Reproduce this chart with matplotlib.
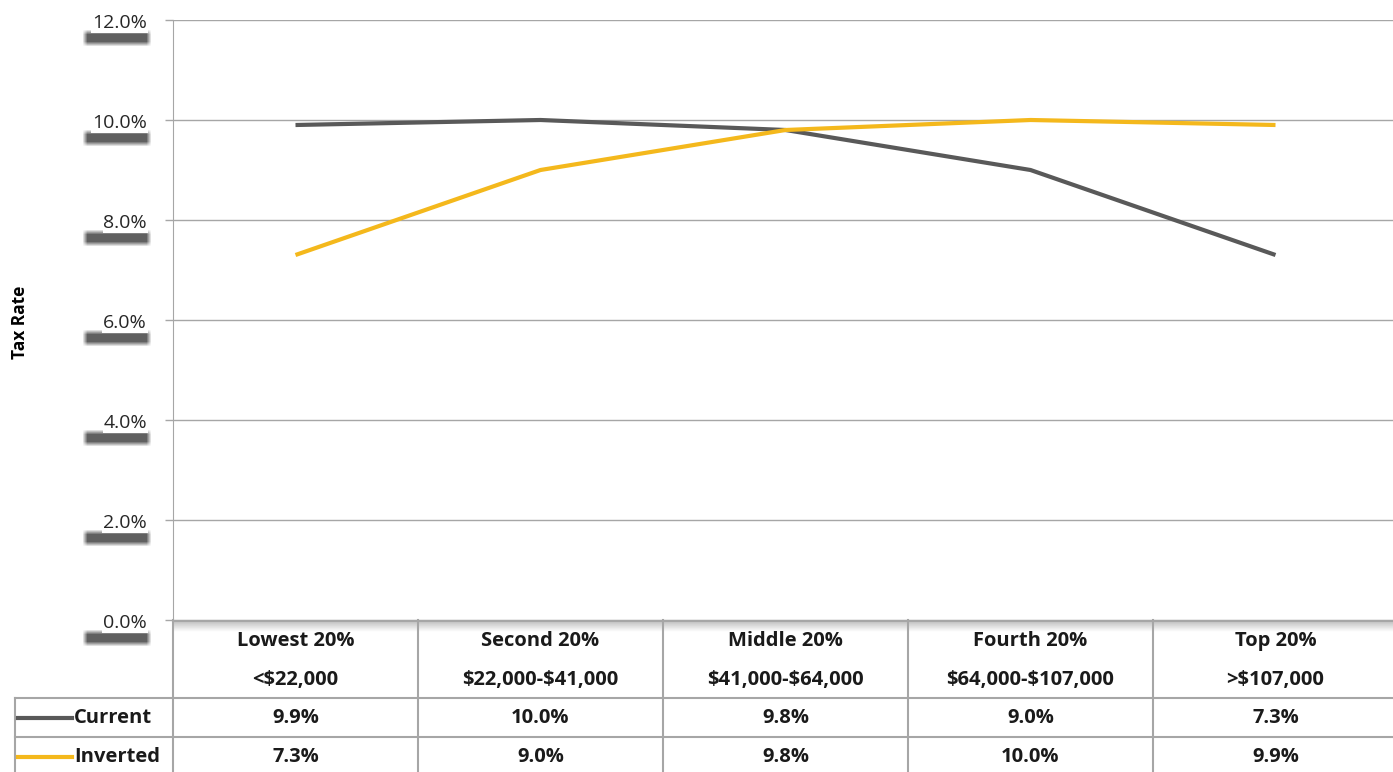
import matplotlib.pyplot as plt
import numpy as np

categories = ["Lowest 20%", "Second 20%", "Middle 20%", "Fourth 20%", "Top 20%"]
income_ranges = ["<$22,000", "$22,000-$41,000", "$41,000-$64,000", "$64,000-$107,000", ">$107,000"]
current = [9.9, 10.0, 9.8, 9.0, 7.3]
inverted = [7.3, 9.0, 9.8, 10.0, 9.9]
yticks = [0, 2, 4, 6, 8, 10, 12]

W, H = 1393, 772
grey = "#595959"
gold = "#F4B81C"
grid_c = "#A6A6A6"
plt.rcParams['font.family'] = ['Open Sans', 'DejaVu Sans']
plt.rcParams['text.parse_math'] = False

fig = plt.figure(figsize=(W / 100, H / 100), dpi=100)

# background layer in pixel coords for the label shadows
bg = fig.add_axes([0, 0, 1, 1], zorder=-1)
bg.set_xlim(0, W)
bg.set_ylim(H, 0)
bg.axis('off')

# main plot area: x 173..1398 px, y 20..620 px (from top)
ax = fig.add_axes([173 / W, (H - 620) / H, 1225 / W, 600 / H])
ax.patch.set_alpha(0)
x = np.arange(len(categories))
ax.plot(x, current, color=grey, lw=3, solid_capstyle='butt', zorder=3)
ax.plot(x, inverted, color=gold, lw=3, solid_capstyle='butt', zorder=3)
ax.set_xlim(-0.5, 4.5)
ax.set_ylim(0, 12)
ax.set_yticks(yticks)
ax.set_yticklabels([])
ax.set_xticks([])
for v in yticks:
    ax.axhline(v, color=grid_c, lw=1, zorder=1)
for s in ["top", "right", "bottom"]:
    ax.spines[s].set_visible(False)
ax.spines["left"].set_color(grid_c)
ax.tick_params(axis='y', length=6, color=grid_c, width=1)

# soft shadow image
sx = np.clip(np.minimum(np.arange(70), np.arange(70)[::-1]) / 5, 0, 1)
sy = np.clip(np.minimum(np.arange(18), np.arange(18)[::-1]) / 5, 0, 1)
alpha = np.outer(sy, sx) * 0.8
shadow = np.zeros((18, 70, 4))
shadow[..., :3] = 0.22
shadow[..., 3] = alpha

for v in yticks:
    ypx = 620 - v * 50
    bg.imshow(shadow, extent=(82, 152, ypx + 27, ypx + 9), aspect='auto',
              interpolation='bilinear')
    fig.text(147 / W, (H - ypx - 3) / H, f"{v:.1f}%", ha='right', va='center',
             fontsize=14, color="#262626",
             bbox=dict(facecolor='white', edgecolor='none', pad=0.5))
bg.set_xlim(0, W)
bg.set_ylim(H, 0)

fig.text(20 / W, (H - 322) / H, "Tax Rate", rotation=90, ha='center', va='center',
         fontsize=12.5, fontweight='bold')

# data table under the plot
tab = fig.add_axes([173 / W, 0, 1225 / W, 152 / H])
tab.patch.set_alpha(0)

# header shadow
grad = np.linspace(0.35, 0, 20).reshape(-1, 1)
tab.imshow(np.dstack([np.full_like(grad, 0.3)] * 3 + [grad]), extent=(-0.5, 4.5, 632, 621),
           aspect='auto', zorder=0)
tab.set_xlim(-0.5, 4.5)
tab.set_ylim(772, 620)
tab.axis('off')

line_kw = dict(color=grid_c, lw=1.5, clip_on=False)
tab.plot([-0.5, 4.5], [621, 621], **line_kw)
x_left = -0.5 - (173 - 15) / 245
for yy in [698, 737]:
    tab.plot([x_left, 4.5], [yy, yy], **line_kw)
for i in range(5):
    tab.plot([i - 0.5, i - 0.5], [620, 772], **line_kw)
tab.plot([x_left, x_left], [698, 772], **line_kw)

fs = 14.5
tc = "#1a1a1a"
for i in range(5):
    tab.text(i, 641, categories[i], ha='center', va='center', fontsize=fs, fontweight='bold', color=tc)
    tab.text(i, 680, income_ranges[i], ha='center', va='center', fontsize=fs, fontweight='bold', color=tc)
    tab.text(i, 718, f"{current[i]:.1f}%", ha='center', va='center', fontsize=fs, fontweight='bold', color=tc)
    tab.text(i, 757, f"{inverted[i]:.1f}%", ha='center', va='center', fontsize=fs, fontweight='bold', color=tc)

for yy, name, c in [(718, "Current", grey), (757, "Inverted", gold)]:
    x0 = -0.5 - (173 - 18) / 245
    x1 = -0.5 - (173 - 72) / 245
    tab.plot([x0, x1], [yy, yy], color=c, lw=3, clip_on=False)
    tab.text(-0.5 - (173 - 74) / 245, yy, name, ha='left', va='center', fontsize=fs,
             fontweight='bold', color=tc)

fig.savefig("out.png", dpi=100)
